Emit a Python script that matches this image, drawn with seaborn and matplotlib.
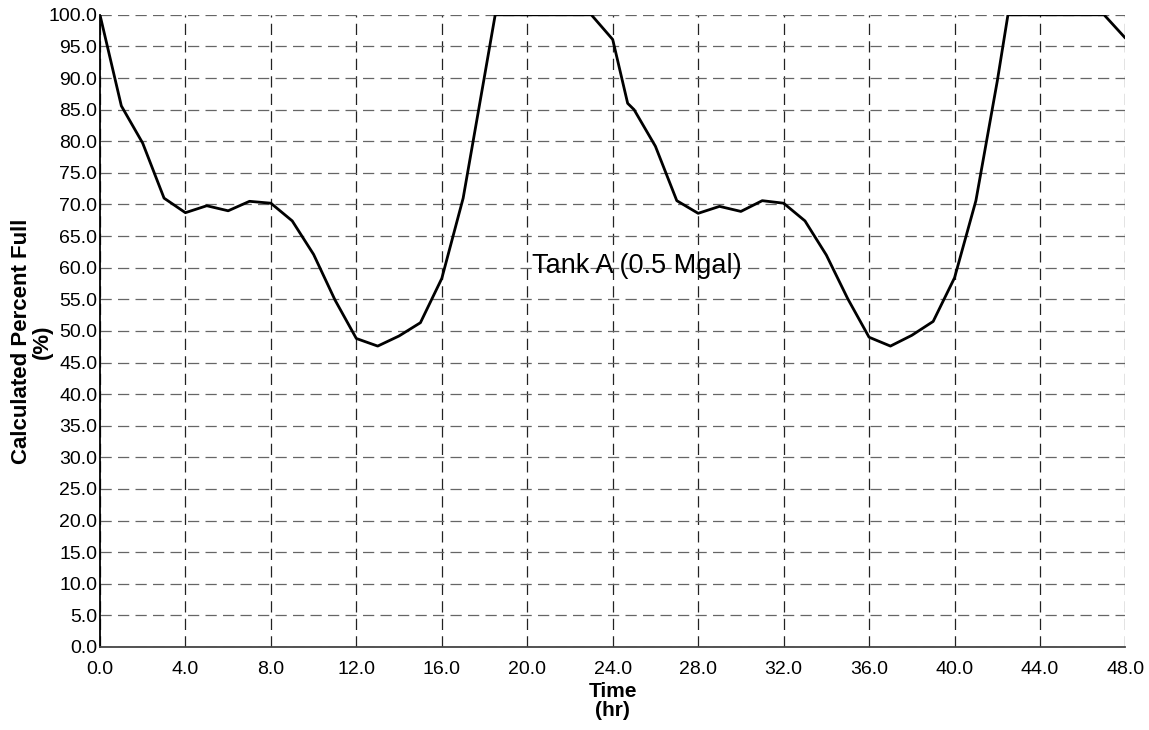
import seaborn as sns
import matplotlib.pyplot as plt
import numpy as np
import pandas as pd

# Tank level readings (hr, % full)
hours = [0, 1, 2, 3, 4, 5, 6, 7, 8, 9, 10, 11, 12, 13, 14, 15, 16, 17, 18, 18.5,
         19, 20, 21, 22, 23, 24, 24.7, 25, 26, 27, 28, 29, 30, 31, 32, 33, 34, 35,
         36, 37, 38, 39, 40, 41, 42, 42.5, 43, 44, 45, 46, 47, 48]
percent_full = [100.0, 85.6, 79.7, 71.0, 68.7, 69.8, 69.0, 70.5, 70.2, 67.4, 62.1, 54.9,
                48.8, 47.6, 49.2, 51.3, 58.3, 71.0, 90.3, 100.0,
                100.0, 100.0, 100.0, 100.0, 100.0, 96.1, 86.0, 85.0, 79.2, 70.6, 68.6,
                69.7, 68.9, 70.6, 70.2, 67.4, 62.0, 55.1, 49.0, 47.6, 49.3, 51.5, 58.4,
                70.6, 89.5, 100.0, 100.0, 100.0, 100.0, 100.0, 100.0, 96.3]

x_ticks = np.arange(0, 49, 4)
y_ticks = np.arange(0, 101, 5)

df = pd.DataFrame({"Time": hours, "Percent": percent_full})

sns.set_style("white")
plt.rcParams['font.family'] = ['Liberation Sans', 'DejaVu Sans']
plt.rcParams['text.color'] = 'black'
plt.rcParams['axes.labelcolor'] = 'black'
plt.rcParams['xtick.color'] = 'black'
plt.rcParams['ytick.color'] = 'black'

fig = plt.figure(figsize=(11.49, 7.30), dpi=100)
ax = fig.add_axes([0.087, 0.1137, 0.8925, 0.866])

sns.lineplot(data=df, x="Time", y="Percent", color="black", linewidth=2.0, ax=ax)

ax.set_xlim(0, 48)
ax.set_ylim(0, 100)
ax.set_xticks(x_ticks)
ax.set_yticks(y_ticks)
ax.set_xticklabels([f"{v:.1f}" for v in x_ticks], fontsize=14)
ax.set_yticklabels([f"{v:.1f}" for v in y_ticks], fontsize=14)
ax.tick_params(axis="x", length=0, pad=10)
ax.tick_params(axis="y", length=0, pad=2)

# dashed grid: verticals darker than horizontals
ax.grid(axis="x", color="#222222", linestyle=(0, (9, 5)), linewidth=0.9)
ax.grid(axis="y", color="#666666", linestyle=(0, (9, 5)), linewidth=0.9)

for side in ["top", "right"]:
    ax.spines[side].set_visible(False)
ax.spines["left"].set_color("black")
ax.spines["bottom"].set_color("#444444")
ax.spines["left"].set_linewidth(1.3)
ax.spines["bottom"].set_linewidth(1.3)

ax.set_xlabel("Time\n(hr)", fontsize=15, fontweight="bold", labelpad=3, linespacing=1.0)
ax.set_ylabel("Calculated Percent Full\n(%)", fontsize=16, fontweight="bold", linespacing=1.0)
ax.yaxis.set_label_coords(-0.046, 0.483)

ax.text(20.2, 60.2, "Tank A (0.5 Mgal)", fontsize=19.5, va="center", ha="left")

plt.savefig("out.png", dpi=100)
